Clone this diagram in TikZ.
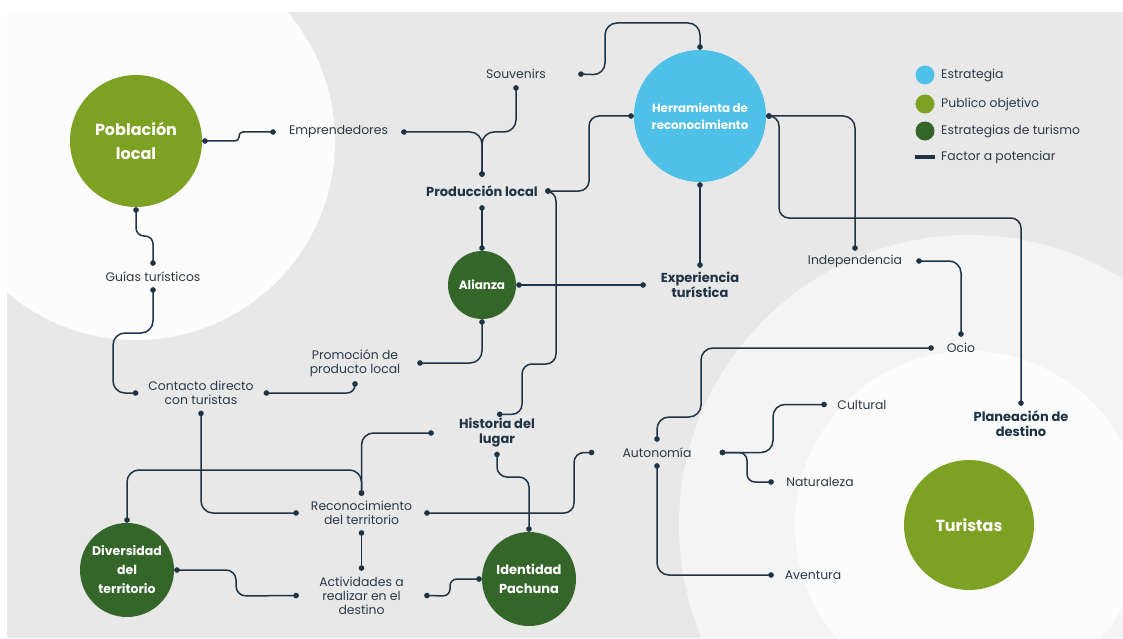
\documentclass[tikz,border=0pt]{standalone}
\usepackage{fontspec}
\setmainfont{Poppins}
\usetikzlibrary{arrows.meta}
\definecolor{cgray}{HTML}{E8E8E8}
\definecolor{clight}{HTML}{F4F4F4}
\definecolor{cwhite}{HTML}{FCFCFC}
\definecolor{cblue}{HTML}{4FC1E9}
\definecolor{colive}{HTML}{7DA123}
\definecolor{cdark}{HTML}{336628}
\definecolor{cline}{HTML}{1F3345}
\definecolor{ctext}{HTML}{2A3947}
\begin{document}
\begin{tikzpicture}[x=1pt, y=-1pt,
    lbl/.style={inner sep=0pt, text=ctext, align=center, font=\fontsize{12.4}{14}\selectfont},
    key/.style={lbl, text=cline, font=\bfseries\fontsize{13}{15}\selectfont},
    blob/.style={circle, inner sep=0pt, text=white, align=center},
    link/.style={cline, line width=1.5pt, rounded corners=12pt,
                 {Circle[length=5.5pt, width=5.5pt]}-{Circle[length=5.5pt, width=5.5pt]}}]
      \useasboundingbox (0,0) rectangle (1123,639);
      \fill[white] (0,0) rectangle (1123,639);          % page
      \fill[cgray] (7,12) rectangle (1123,638);         % panel
      \begin{scope}
        \clip (7,12) rectangle (1123,638);
        \fill[cwhite] (136,141) circle[radius=199];
        \fill[clight] (969,525) circle[radius=290];
        \fill[cwhite] (969,525) circle[radius=174];
      \end{scope}
      %
      \node[blob, fill=colive, minimum size=132, font=\bfseries\fontsize{16}{24}\selectfont] (pobl) at (136,141) {Población\\local};
      \node[blob, fill=cblue, minimum size=132, font=\bfseries\fontsize{11.8}{17}\selectfont] (herr) at (700,116) {Herramienta de\\reconocimiento};
      \node[blob, fill=cdark, minimum size=68, font=\bfseries\fontsize{12}{14}\selectfont] (alianza) at (482,285) {Alianza};
      \node[blob, fill=cdark, minimum size=94, font=\bfseries\fontsize{12.5}{19}\selectfont] (divers) at (127,570) {Diversidad\\del\\territorio};
      \node[blob, fill=cdark, minimum size=94, font=\bfseries\fontsize{13}{19}\selectfont] (ident) at (529,579) {Identidad\\Pachuna};
      \node[blob, fill=colive, minimum size=130, font=\bfseries\fontsize{16}{20}\selectfont] (turistas) at (969,525) {Turistas};
      %
      \node[lbl, minimum width=124, minimum height=22] (souv) at (516,74) {Souvenirs};
      \node[lbl, minimum width=125, minimum height=16] (emp) at (338.5,132) {Emprendedores};
      \node[key, minimum width=126, minimum height=28] (prod) at (482,191) {Producción local};
      \node[lbl, minimum width=100, minimum height=21] (guias) at (153,276.5) {Guías turísticos};
      \node[lbl, minimum width=125, minimum height=35] (contacto) at (201,393) {Contacto directo\\con turistas};
      \node[lbl, minimum width=124, minimum height=36] (promo) at (355,363) {Promoción de\\producto local};
      \node[key, minimum width=126, minimum height=37] (historia) at (497,433) {Historia del\\lugar};
      \node[key, minimum width=108, minimum height=34] (exper) at (700,285) {Experiencia\\turística};
      \node[lbl, minimum width=122, minimum height=20] (indep) at (855,261) {Independencia};
      \node[lbl, minimum width=54, minimum height=22] (ocio) at (961,348) {Ocio};
      \node[lbl, minimum width=125, minimum height=21] (auton) at (657,452.5) {Autonomía};
      \node[lbl, minimum width=70, minimum height=16] (cultural) at (862,404.5) {Cultural};
      \node[lbl, minimum width=92, minimum height=16] (natur) at (820,482) {Naturaleza};
      \node[lbl, minimum width=78, minimum height=16] (aventura) at (813,575) {Aventura};
      \node[key, minimum width=110, minimum height=36] (plan) at (1021,424) {Planeación de\\destino};
      \node[lbl, minimum width=125, minimum height=34] (recon) at (361.5,513) {Reconocimiento\\del territorio};
      \node[lbl, minimum width=125, minimum height=49] (activ) at (361.5,595.5) {Actividades a\\realizar en el\\destino};
      %
      \draw[link, rounded corners=4] (pobl.east) -- (239,141) -- (239,132) -- (emp.west);
      \draw[link] (emp.east) -| (prod.north);
      \draw[link] (souv.south) -- (516,132) -| (prod.north);
      \draw[link] (prod.south) -- (alianza.north);
      \draw[link, rounded corners=10] (prod.east) -- (589,191) |- (herr.west);
      \draw[link, rounded corners=10] (prod.east) -- (556,191) -- (556,364) -- (522,364) |- (historia.north);
      \draw[link] (souv.east) -- (605,75) -- (605,23) -| (herr.north);
      \draw[link] (herr.south) -- (exper.north);
      \draw[link] (alianza.east) -- (exper.west);
      \draw[link] (alianza.south) |- (promo.east);
      \draw[link] (herr.east) -| (indep.north);
      \draw[link, rounded corners=10] (herr.east) -- (779,116) -- (779,218) -| (plan.north);
      \draw[link] (indep.east) -| (ocio.north);
      \draw[link] (ocio.west) -- (701,348) -- (701,417) -| (auton.north);
      \draw[link, rounded corners=10] (recon.east) -- (574,513) |- (auton.west);
      \draw[link] (auton.south) |- (aventura.west);
      \draw[link] (auton.east) -- (773,452.5) |- (cultural.west);
      \draw[link, rounded corners=8] (auton.east) -- (747,452.5) |- (natur.west);
      \draw[link, rounded corners=8] (pobl.south) -- (136,236) -- (153,236) -- (guias.north);
      \draw[link] (guias.south) -- (153,333) -- (113,333) |- (contacto.west);
      \draw[link, rounded corners=8] (contacto.east) -| (promo.south);
      \draw[link] (contacto.south) |- (recon.west);
      \draw[link] (historia.west) -| (recon.north);
      \draw[link] (divers.north) -- (127,470) -| (recon.north);
      \draw[link] (recon.south) -- (activ.north);
      \draw[link, rounded corners=10] (divers.east) -- (236,570) -- (236,596) -- (activ.west);
      \draw[link, rounded corners=7] (activ.east) -- (450,596) -- (450,579) -- (ident.west);
      \draw[link, rounded corners=10] (historia.south) -- (497,477) -- (529,477) -- (ident.north);
      %
      \node[circle, inner sep=0pt, minimum size=19, fill=cblue] (key1) at (925,75) {};     % legend
      \node[circle, inner sep=0pt, minimum size=19, fill=colive] (key2) at (925,104) {};
      \node[circle, inner sep=0pt, minimum size=19, fill=cdark] (key3) at (925,131) {};
      \node[inner sep=0pt, minimum width=20, minimum height=4.5, fill=cline] (key4) at (925,157) {};
      \node[lbl, anchor=west] (key1t) at (941,75) {Estrategia};
      \node[lbl, anchor=west] (key2t) at (941,104) {Publico objetivo};
      \node[lbl, anchor=west] (key3t) at (941,131) {Estrategias de turismo};
      \node[lbl, anchor=west] (key4t) at (941,157) {Factor a potenciar};
    \end{tikzpicture}
\end{document}
